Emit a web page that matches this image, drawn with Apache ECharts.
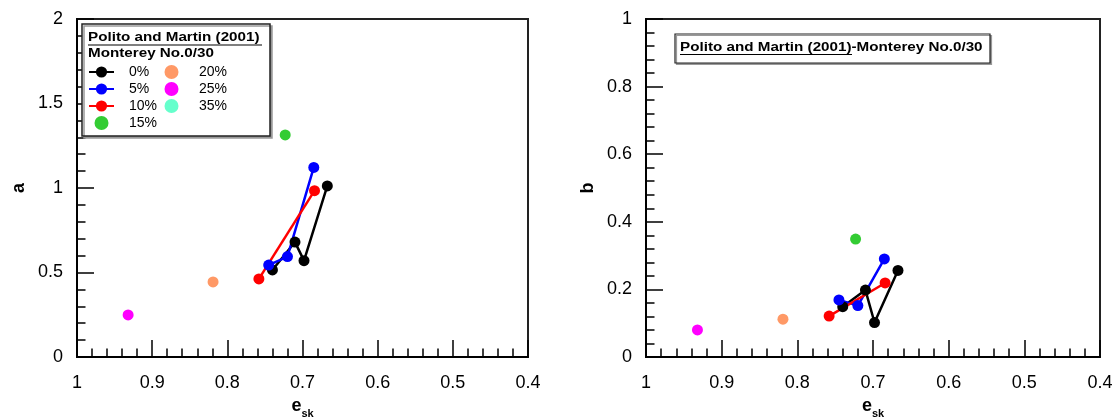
<!DOCTYPE html>
<html>
<head>
<meta charset="utf-8">
<script src="https://cdn.jsdelivr.net/npm/echarts@6/dist/echarts.min.js"></script>
<style>
html,body{margin:0;padding:0;background:#fff;}
#c{width:1113px;height:417px;}
</style>
</head>
<body>
<div id="c"></div>
<script>
// ---- data ----
const seriesNames = ['0%', '5%', '10%', '15%', '20%', '25%', '35%'];
const seriesColors = ['#000000', '#0000ff', '#ff0000', '#33cc33', '#ff9966', '#ff00ff', '#66ffcc'];
const xTicks = [1, 0.9, 0.8, 0.7, 0.6, 0.5, 0.4];
const aTicks = [0, 0.5, 1, 1.5, 2];
const bTicks = [0, 0.2, 0.4, 0.6, 0.8, 1];

// e_sk values
const esk0 = [0.740, 0.710, 0.698, 0.667];
const esk5 = [0.745, 0.720, 0.685];
const esk10 = [0.758, 0.684];
const esk15 = [0.723];
const esk20 = [0.819];
const esk25 = [0.932];
const esk35 = [];
// a values
const a0 = [0.515, 0.680, 0.570, 1.012];
const a5 = [0.544, 0.594, 1.122];
const a10 = [0.462, 0.984];
const a15 = [1.314];
const a20 = [0.444];
const a25 = [0.249];
const a35 = [];
// b values
const b0 = [0.149, 0.198, 0.102, 0.256];
const b5 = [0.169, 0.152, 0.290];
const b10 = [0.121, 0.219];
const b15 = [0.349];
const b20 = [0.112];
const b25 = [0.080];
const b35 = [];

const eskAll = [esk0, esk5, esk10, esk15, esk20, esk25, esk35];
const aAll = [a0, a5, a10, a15, a20, a25, a35];
const bAll = [b0, b5, b10, b15, b20, b25, b35];
const isLine = [true, true, true, false, false, false, false];

const FONT = '"Liberation Sans", Arial, sans-serif';
const zip = (xs, ys) => xs.map((x, i) => [x, ys[i]]);

function xAxis(gi) {
  return {
    type: 'value', gridIndex: gi, min: 0.4, max: 1, interval: 0.1, inverse: true,
    name: '{e|e}{s|sk}', nameLocation: 'middle', nameGap: 38,
    nameTextStyle: {
      rich: {
        e: { fontFamily: FONT, fontSize: 18, fontWeight: 'bold', color: '#000', verticalAlign: 'bottom' },
        s: { fontFamily: FONT, fontSize: 11, fontWeight: 'bold', color: '#000', verticalAlign: 'bottom', padding: [0, 0, -5, 0] }
      }
    },
    axisLine: { show: true, onZero: false, lineStyle: { color: '#000', width: 2 } },
    axisTick: { show: true, inside: true, length: 17, lineStyle: { color: '#000', width: 1.5 } },
    minorTick: { show: true, splitNumber: 5, length: 8.5, lineStyle: { color: '#000', width: 1.5 } },
    splitLine: { show: false },
    axisLabel: { margin: 17, fontFamily: FONT, fontSize: 18, color: '#000',
      formatter: v => String(parseFloat(v.toFixed(2))) }
  };
}
function yAxis(gi, max, interval, name) {
  return {
    type: 'value', gridIndex: gi, min: 0, max: max, interval: interval,
    name: name, nameLocation: 'middle', nameGap: 49, nameRotate: 90,
    nameTextStyle: { fontFamily: FONT, fontSize: 18, fontWeight: 'bold', color: '#000' },
    axisLine: { show: true, onZero: false, lineStyle: { color: '#000', width: 2 } },
    axisTick: { show: true, inside: true, length: 17, lineStyle: { color: '#000', width: 1.5 } },
    minorTick: { show: true, splitNumber: 5, length: 8.5, lineStyle: { color: '#000', width: 1.5 } },
    splitLine: { show: false },
    axisLabel: { margin: 14, fontFamily: FONT, fontSize: 18, color: '#000',
      formatter: v => String(parseFloat(v.toFixed(2))) }
  };
}

const series = [];
[0, 1].forEach(gi => {
  const yAll = gi === 0 ? aAll : bAll;
  seriesNames.forEach((nm, i) => {
    series.push({
      name: nm,
      type: isLine[i] ? 'line' : 'scatter',
      xAxisIndex: gi, yAxisIndex: gi,
      data: zip(eskAll[i], yAll[i]),
      symbol: 'circle', symbolSize: 11,
      itemStyle: { color: seriesColors[i], opacity: 1 },
      lineStyle: { color: seriesColors[i], width: 2.5 },
      animation: false, z: 3
    });
  });
});

const legendCommon = {
  orient: 'vertical', itemWidth: 25, itemHeight: 14, itemGap: 3, selectedMode: false, padding: 0,
  textStyle: { fontFamily: FONT, fontSize: 14, color: '#000', lineHeight: 14, padding: [0, 0, 0, 10] },
  z: 10
};

const textStyle13 = { fontFamily: FONT, fontSize: 13, fontWeight: 'bold', fill: '#000', verticalAlign: 'middle', align: 'left' };
const SX = 1.17;

const option = {
  backgroundColor: '#fff',
  animation: false,
  grid: [
    { left: 77, top: 19, width: 451, height: 338, show: true, borderColor: '#222', borderWidth: 2, backgroundColor: 'transparent', containLabel: false, outerBoundsMode: 'none' },
    { left: 646, top: 19, width: 454, height: 338, show: true, borderColor: '#222', borderWidth: 2, backgroundColor: 'transparent', containLabel: false, outerBoundsMode: 'none' }
  ],
  xAxis: [xAxis(0), xAxis(1)],
  yAxis: [yAxis(0, 2, 0.5, 'a'), yAxis(1, 1, 0.2, 'b')],
  legend: [
    Object.assign({ left: 88, top: 65, data: seriesNames.slice(0, 4) }, legendCommon),
    Object.assign({ left: 164.5, top: 65, data: seriesNames.slice(4) }, legendCommon)
  ],
  graphic: [
    { type: 'rect', z: 5, shape: { x: 82, y: 24, width: 188, height: 112 },
      style: { fill: '#fff', stroke: '#222', lineWidth: 1.5, shadowColor: '#999', shadowOffsetX: 2, shadowOffsetY: 2, shadowBlur: 0 } },
    { type: 'text', z: 6, x: 88, y: 37, scaleX: SX,
      style: Object.assign({ text: 'Polito and Martin (2001)' }, textStyle13) },
    { type: 'line', z: 6, shape: { x1: 88, y1: 45, x2: 262, y2: 45 }, style: { stroke: '#000', lineWidth: 1.2 } },
    { type: 'text', z: 6, x: 88, y: 53, scaleX: SX,
      style: Object.assign({ text: 'Monterey No.0/30' }, textStyle13) },

    { type: 'rect', z: 5, shape: { x: 675, y: 34, width: 315, height: 29 },
      style: { fill: '#fff', stroke: '#222', lineWidth: 1.2, shadowColor: '#999', shadowOffsetX: 1.5, shadowOffsetY: 1.5, shadowBlur: 0 } },
    { type: 'text', z: 6, x: 680, y: 47, scaleX: SX,
      style: Object.assign({ text: 'Polito and Martin (2001)-Monterey No.0/30' }, textStyle13) },
    { type: 'line', z: 6, shape: { x1: 680, y1: 54.5, x2: 852, y2: 54.5 }, style: { stroke: '#000', lineWidth: 1.2 } }
  ],
  series: series
};

const chart = echarts.init(document.getElementById('c'), null, { renderer: 'canvas' });
chart.setOption(option);
</script>
</body>
</html>
